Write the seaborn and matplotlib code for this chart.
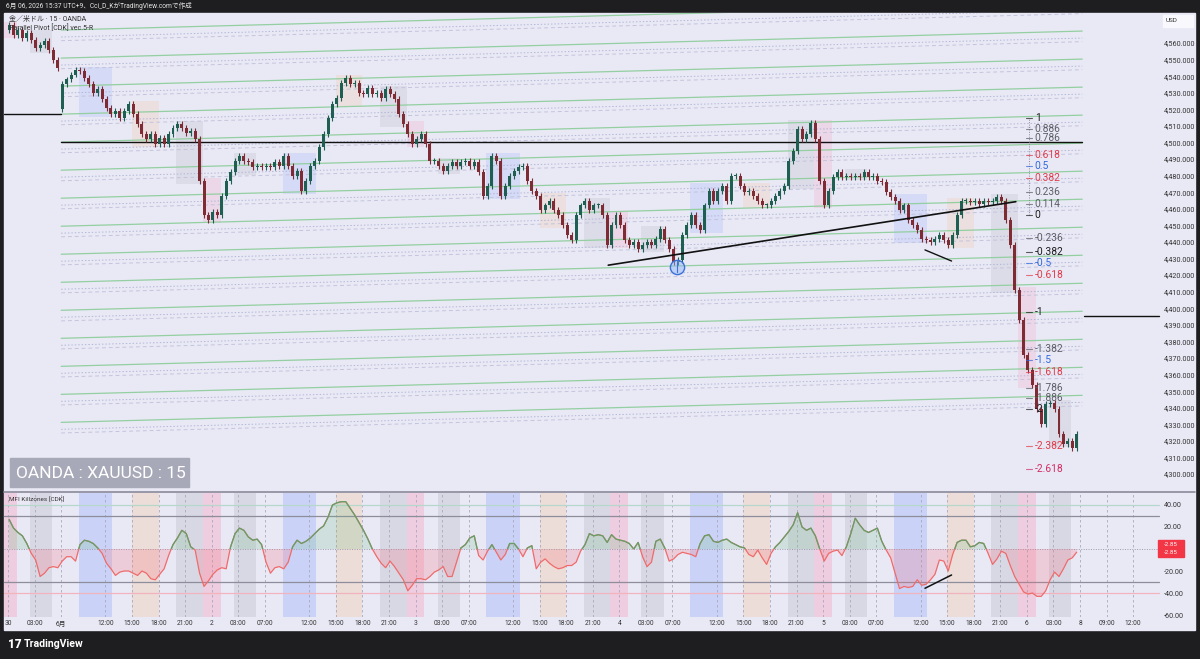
import numpy as np
import pandas as pd
import matplotlib
matplotlib.use("Agg")
import matplotlib.pyplot as plt
from matplotlib.patches import Rectangle
from matplotlib.lines import Line2D
import seaborn as sns

# 30-minute closes (XAUUSD, OANDA)
closes = [
    4571, 4565, 4568, 4563, 4566, 4562, 4557, 4559, 4561, 4556, 4550, 4545,
    4535, 4538, 4541, 4544, 4543, 4539, 4535, 4530, 4532, 4526, 4521, 4517,
    4519, 4515, 4519, 4523, 4517, 4511, 4505, 4502, 4505, 4499, 4503, 4499,
    4505, 4509, 4511, 4509, 4506, 4507, 4502, 4477, 4456, 4453, 4458, 4456,
    4468, 4477, 4482, 4489, 4492, 4489, 4488, 4485, 4486, 4485, 4486, 4485,
    4488, 4486, 4492, 4486, 4480, 4483, 4471, 4477, 4486, 4489, 4497, 4505,
    4515, 4523, 4527, 4536, 4539, 4535, 4536, 4530, 4529, 4533, 4529, 4530,
    4527, 4532, 4529, 4526, 4517, 4511, 4505, 4499, 4502, 4505, 4499, 4489,
    4489, 4486, 4483, 4486, 4488, 4486, 4488, 4489, 4486, 4488, 4482, 4468,
    4474, 4492, 4489, 4468, 4474, 4480, 4483, 4485, 4486, 4477, 4471, 4468,
    4459, 4462, 4465, 4459, 4456, 4450, 4444, 4441, 4456, 4462, 4465, 4459,
    4462, 4462, 4456, 4438, 4450, 4456, 4450, 4441, 4438, 4440, 4436, 4438,
    4440, 4438, 4442, 4448, 4441, 4436, 4428, 4429, 4444, 4450, 4456, 4450,
    4447, 4462, 4471, 4465, 4471, 4474, 4465, 4480, 4480, 4474, 4470, 4471,
    4468, 4465, 4462, 4462, 4465, 4468, 4471, 4474, 4489, 4495, 4508, 4502,
    4505, 4512, 4502, 4477, 4462, 4471, 4479, 4482, 4479, 4480, 4479, 4480,
    4479, 4482, 4479, 4480, 4477, 4476, 4470, 4467, 4465, 4459, 4462, 4453,
    4450, 4447, 4442, 4441, 4440, 4442, 4444, 4441, 4438, 4444, 4456, 4465,
    4465, 4464, 4465, 4463, 4465, 4464, 4465, 4467, 4465, 4453, 4438, 4411,
    4393, 4372, 4363, 4354, 4339, 4330, 4342, 4343, 4339, 4324, 4318, 4320,
    4316, 4324,
]
first_open = 4568
gap_opens = {12: 4520}  # Monday open after the weekend gap

mfi = [
    27, 19, 15, 12, 5, -4, -10, -25, -22, -17, -16, -17,
    -11, -7, -7, -11, 4, 8, 7, 5, 1, -4, -13, -18,
    -24, -21, -20, -20, -22, -24, -20, -22, -27, -28, -23, -18,
    -6, 4, 10, 17, 14, 2, -1, -22, -34, -29, -23, -19,
    -17, -18, 2, 14, 19, 17, 11, 8, 9, 4, -12, -22,
    -17, -16, -18, -12, 2, 8, 5, 7, 10, 14, 18, 21,
    29, 40, 42, 43, 43, 37, 31, 24, 17, 9, 0, -7,
    -13, -17, -11, -16, -22, -28, -38, -33, -27, -27, -28, -25,
    -21, -19, -16, -25, -25, -12, 1, 4, 10, 12, -6, -10,
    -2, 4, -3, -10, -5, 5, 5, 0, -7, 1, 3, -18,
    -12, -9, -13, -16, -18, -17, -15, -15, -12, -2, 4, 14,
    12, 13, 12, 6, 13, 9, 8, 7, 5, 0, 6, -7,
    -16, -12, 7, 9, 1, -11, -9, -5, -3, -4, -5, -7,
    5, 12, 13, 7, 6, 8, 9, 6, 4, 2, 1, -5,
    -7, -1, -8, -14, -4, 2, 6, 11, 16, 22, 33, 20,
    17, 19, 12, 0, -11, -4, -2, -1, -6, 2, 14, 28,
    22, 17, 15, 17, 19, 7, -1, -8, -22, -36, -34, -35,
    -34, -28, -33, -32, -28, -23, -10, -11, -20, -5, 6, 8,
    8, 2, 3, 6, 5, -4, -14, -9, -2, -4, -15, -25,
    -32, -39, -41, -40, -43, -43, -38, -28, -21, -25, -18, -10,
    -8, -2.85,
]

# time axis (15-minute bar index)
tick_idx = [0, 12, 24, 44, 56, 68, 80, 92, 104, 116, 136, 148, 160, 172,
            184, 196, 208, 228, 240, 252, 264, 276, 288, 300, 320, 332, 344, 356,
            368, 380, 392, 412, 424, 436, 448, 460, 472, 484, 496, 508]
tick_lab = ["30", "03:00", "6月", "12:00", "15:00", "18:00", "21:00",
            "2", "03:00", "07:00", "12:00", "15:00", "18:00", "21:00",
            "3", "03:00", "07:00", "12:00", "15:00", "18:00", "21:00",
            "4", "03:00", "07:00", "12:00", "15:00", "18:00", "21:00",
            "5", "03:00", "07:00", "12:00", "15:00", "18:00", "21:00",
            "6", "03:00", "8", "09:00", "12:00"]

price_ticks = list(range(4300, 4561, 10))
mfi_ticks = [40, 20, -20, -40, -60]

# killzone sessions, offsets in bars from each day's 00:00
day_starts = [0, 92, 184, 276, 368, 460]
sess_kind = ["red", "gray", "blue", "orange", "gray"]
sess_start = [-4, 10, 32, 56, 76]
sess_end = [4, 20, 47, 68, 88]

# fibonacci projection
fib_levels = [1, 0.886, 0.786, 0.618, 0.5, 0.382, 0.236, 0.114, 0, -0.236, -0.382,
              -0.5, -0.618, -1, -1.382, -1.5, -1.618, -1.786, -1.886, -2, -2.382, -2.618]
fib_kind = ["k", "g", "g", "r", "b", "r", "g", "g", "k", "g", "k",
            "b", "r", "k", "g", "b", "r", "g", "g", "k", "r", "m"]
fib_one, fib_zero = 4515.0, 4456.5

# parallel pivot channel lines
pivot_first, pivot_step, pivot_count, pivot_rise = 4567.8, 16.9, 15, 16.3

level_4500 = 4500
prev_close_level = 4517.2
proj_level = 4395.3
trend_a_x, trend_a_y = [271, 455], [4426, 4464.3]
trend_b_x, trend_b_y = [414, 426], [4435.2, 4428.5]
mfi_trend_x, mfi_trend_y = [414, 426], [-35.7, -23.6]
marker_x, marker_y = 302, 4425

# ---------------------------------------------------------------------------
W, H = 1200, 659
LAV = "#e9e9f6"
DARK = "#1e1e20"
UP, DOWN = "#1f5f52", "#7e2b33"

sns.set_theme(style="white")
plt.rcParams["font.family"] = ["Roboto", "Noto Sans CJK JP", "DejaVu Sans"]


def fx(px):
    return px / W


def fy(py):
    return 1 - py / H


sess_colors = {
    "blue": (0.45, 0.58, 0.98, 0.17),
    "orange": (0.98, 0.70, 0.45, 0.17),
    "red": (0.98, 0.50, 0.62, 0.17),
    "gray": (0.58, 0.58, 0.64, 0.15),
}
band_colors = {
    "blue": (0.45, 0.58, 0.98, 0.26),
    "orange": (0.98, 0.72, 0.48, 0.24),
    "red": (0.98, 0.50, 0.62, 0.26),
    "gray": (0.58, 0.58, 0.64, 0.20),
}
fib_colors = {"k": "#1c1c1c", "g": "#5d5d66", "r": "#e23a48", "b": "#2f68df", "m": "#d22c63"}

closes_arr = np.array(closes, dtype=float)
opens_arr = np.concatenate([[first_open], closes_arr[:-1]])
for k, v in gap_opens.items():
    opens_arr[k] = v
cx = np.arange(len(closes_arr)) * 2 + 0.5
wick = 1.8
highs = np.maximum(opens_arr, closes_arr) + wick
lows = np.minimum(opens_arr, closes_arr) - wick

candles = pd.DataFrame({"x": cx, "open": opens_arr, "close": closes_arr,
                        "high": highs, "low": lows})
mfi_df = pd.DataFrame({"x": cx, "mfi": np.array(mfi, dtype=float)})

fig = plt.figure(figsize=(12, 6.59), dpi=100, facecolor=DARK)
fig.add_artist(Rectangle((fx(4), fy(630)), (1195 - 4) / W, (630 - 13) / H,
                         transform=fig.transFigure, color=LAV, zorder=0))

ax = fig.add_axes([fx(4), fy(491), (1195 - 4) / W, (491 - 13) / H])
ax2 = fig.add_axes([fx(4), fy(617), (1195 - 4) / W, (617 - 493) / H])
xmin, xmax = -1.8, 535.9
plot_end = 519.6
for a in (ax, ax2):
    a.set_facecolor(LAV)
    a.set_xlim(xmin, xmax)
    for s in a.spines.values():
        s.set_visible(False)

ax.set_ylim(4289.8, 4578.1)
ax2.set_ylim(-61.8, 50.9)

# --- session boxes / bands
data_end = cx[-1] + 1.5
for d in day_starts:
    for kind, s0, s1 in zip(sess_kind, sess_start, sess_end):
        s, e = d + s0, d + s1
        if s >= data_end:
            continue
        s = max(s, xmin)
        e = min(e, data_end)
        ax2.axvspan(s, e, color=band_colors[kind], lw=0, zorder=0.5)
        inside = candles[(candles.x >= s) & (candles.x < e)]
        if len(inside):
            lo, hi = inside.low.min(), inside.high.max()
            ax.add_patch(Rectangle((s, lo), e - s, hi - lo, color=sess_colors[kind],
                                   lw=0, zorder=0.5))

# --- parallel pivot channel
px0, px1 = 24, 485
for j in range(pivot_count):
    p0 = pivot_first - j * pivot_step
    ax.plot([px0, px1], [p0, p0 + pivot_rise], color="#93cfa0", lw=0.9, zorder=1)
    ax.plot([px0, px1], [p0 - 4.2, p0 + pivot_rise - 4.2], color="#b3b6d6",
            lw=0.7, ls=(0, (1.5, 2)), zorder=1)
    ax.plot([px0, px1], [p0 - 6.4, p0 + pivot_rise - 6.4], color="#c3c4dc",
            lw=0.7, ls=(0, (4, 3)), zorder=1)

ax.plot([24, 485], [level_4500, level_4500], color="#111", lw=1.0, zorder=2)
ax.plot([xmin, 24], [prev_close_level, prev_close_level], color="#111", lw=1.0, zorder=2)
ax.plot([486, plot_end], [proj_level, proj_level], color="#111", lw=1.0, zorder=2)
ax.plot(trend_a_x, trend_a_y, color="#111", lw=1.2, zorder=4)
ax.plot(trend_b_x, trend_b_y, color="#111", lw=1.0, zorder=4)

# --- candles
col = np.where(candles.close >= candles.open, UP, DOWN)
body = (candles.close - candles.open).to_numpy()
body = np.where(np.abs(body) < 0.6, 0.6, body)
ax.vlines(candles.x, candles.low, candles.high, colors=col, lw=0.8, zorder=3)
ax.bar(candles.x, body, bottom=candles.open, width=1.35, color=col, lw=0, zorder=3)

ax.scatter([marker_x], [marker_y], s=105, facecolor=(0.55, 0.7, 0.98, 0.45),
           edgecolor="#3b72d8", lw=1.0, zorder=5)
ax.plot([marker_x, marker_x], [marker_y - 3, marker_y + 3], color="#3b72d8", lw=0.8, zorder=5)

# --- fibonacci labels
fib_x = 461
ax.plot([fib_x, fib_x], [fib_zero, fib_one], color="#8a8a98", lw=0.7, ls=(0, (1, 1.5)), zorder=4)
for lv, kind in zip(fib_levels, fib_kind):
    p = fib_zero + lv * (fib_one - fib_zero)
    c = fib_colors[kind]
    ax.plot([fib_x - 1.2, fib_x + 1.2], [p, p], color=c, lw=0.8, alpha=0.7, zorder=4)
    lab = f"{lv:g}"
    ax.text(fib_x + 2.6, p, lab, color=c, fontsize=7.4, va="center", ha="left", zorder=6)

# --- axes ticks
ax.set_xticks([])
ax.yaxis.tick_right()
ax.set_yticks(price_ticks, [f"{p:,.3f}" for p in price_ticks])
ax.tick_params(axis="y", length=0, pad=-22.5, labelsize=5.2, labelcolor="#333")
for t in ax.get_yticklabels():
    t.set_ha("left")

# --- MFI panel
for t in tick_idx:
    ax2.axvline(t, color="#a9a9bb", lw=0.6, ls=(0, (3, 3)), zorder=0.8)
ax2.plot([xmin, plot_end], [40, 40], color="#b6d8cc", lw=0.9, zorder=1)
ax2.plot([xmin, plot_end], [30, 30], color="#8d8d9c", lw=0.9, zorder=1)
ax2.plot([xmin, plot_end], [0, 0], color="#9a9aaa", lw=0.7, ls=(0, (1, 1.5)), zorder=1)
ax2.plot([xmin, plot_end], [-30, -30], color="#8d8d9c", lw=0.9, zorder=1)
ax2.plot([xmin, plot_end], [-40, -40], color="#f1b3bd", lw=0.9, zorder=1)

mv = mfi_df.mfi.to_numpy()
ax2.fill_between(mfi_df.x, mv, 0, where=mv >= 0, interpolate=True,
                 color=(0.45, 0.75, 0.52, 0.22), lw=0, zorder=1.5)
ax2.fill_between(mfi_df.x, mv, 0, where=mv <= 0, interpolate=True,
                 color=(0.97, 0.45, 0.50, 0.24), lw=0, zorder=1.5)
sns.lineplot(data=mfi_df, x="x", y="mfi", ax=ax2, color="#ef6b6b", lw=0.9, zorder=2)
green = ax2.plot(mfi_df.x, mv, color="#5fa268", lw=0.9, zorder=2.1)[0]
green.set_clip_path(Rectangle((xmin, 0), xmax - xmin, 100, transform=ax2.transData))
ax2.plot(mfi_trend_x, mfi_trend_y, color="#111", lw=1.1, zorder=3)
ax2.set_xlabel("")
ax2.set_ylabel("")
ax.set_ylabel("")

ax2.yaxis.tick_right()
ax2.set_yticks(mfi_ticks, [f"{v:.2f}" for v in mfi_ticks])
ax2.tick_params(axis="y", length=0, pad=-22.5, labelsize=5.2, labelcolor="#333")
for t in ax2.get_yticklabels():
    t.set_ha("left")
ax2.set_xticks(tick_idx, tick_lab)
ax2.tick_params(axis="x", length=0, pad=2.5, labelsize=4.8, labelcolor="#333")

# --- separators and overlays
fig.add_artist(Line2D([fx(4), fx(1195)], [fy(492), fy(492)], color="#8a8a9a", lw=1.2,
                      transform=fig.transFigure))

fig.text(fx(6), fy(6.5), "6月 06, 2026 15:37 UTC+9、Cci_D_KがTradingView.comで作成",
         color="#e6e6e6", fontsize=4.8, va="center", ha="left")
fig.text(fx(9), fy(20), "金／米ドル · 15 · OANDA", color="#333", fontsize=5, va="center")
fig.text(fx(9), fy(28.5), "Parallel Pivot [CDK] vec.5-R", color="#333", fontsize=5, va="center")
fig.text(fx(9), fy(500), "MFI Killzones [CDK]", color="#333", fontsize=4.6, va="center")

fig.add_artist(Rectangle((fx(1163), fy(27)), 30 / W, 12 / H, transform=fig.transFigure,
                         color="#f8f8fd", zorder=5))
fig.text(fx(1166), fy(21), "USD", color="#333", fontsize=4.6, va="center", zorder=6)

fig.add_artist(Rectangle((fx(10), fy(487)), 179 / W, 29 / H, transform=fig.transFigure,
                         color="#a7a9b8", zorder=5))
fig.text(fx(16.5), fy(473), "OANDA : XAUUSD : 15", color="white", fontsize=12.5,
         va="center", ha="left", zorder=6)

fig.add_artist(Rectangle((fx(1158), fy(557)), 26 / W, 17 / H, transform=fig.transFigure,
                         color="#f23645", zorder=5))
fig.text(fx(1171), fy(544.5), "-2.85", color="white", fontsize=4.4, va="center", ha="center", zorder=6)
fig.text(fx(1171), fy(552.5), "-2.85", color="white", fontsize=4.4, va="center", ha="center", zorder=6)

fig.text(fx(8), fy(644), "17", color="white", fontsize=8.5, fontweight="heavy", va="center")
fig.text(fx(24), fy(644), "TradingView", color="white", fontsize=7.6, fontweight="bold", va="center")

fig.savefig("out.png", dpi=100, facecolor=DARK)
